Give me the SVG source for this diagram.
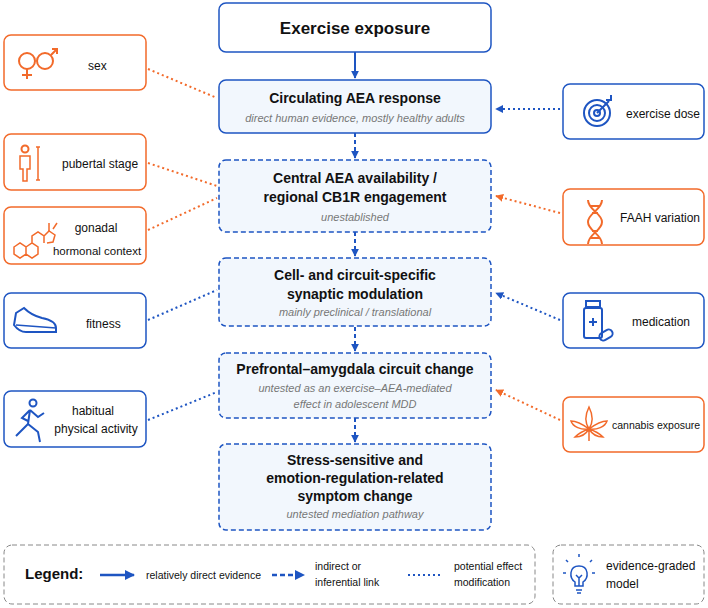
<svg xmlns="http://www.w3.org/2000/svg" width="708" height="608" viewBox="0 0 708 608">
<defs>
<style>
text{font-family:"Liberation Sans",Arial,sans-serif;fill:#111}
.t{font-size:14px;font-weight:bold;text-anchor:middle}
.s{font-size:11px;font-style:italic;fill:#777;text-anchor:middle}
.l{font-size:12px}
.m{fill:#f2f7fd;stroke:#1e55c2;stroke-width:1.5}
.d{stroke-dasharray:5 3}
.bo{fill:#fff;stroke:#1e55c2;stroke-width:1.5}
.oo{fill:#fff;stroke:#f26a2a;stroke-width:1.5}
.ib{fill:none;stroke:#1e55c2;stroke-width:2}
.io{fill:none;stroke:#f26a2a;stroke-width:2}
.cb{stroke:#1e55c2;stroke-width:2;stroke-dasharray:2 3;fill:none}
.co{stroke:#f26a2a;stroke-width:2;stroke-dasharray:2 3;fill:none}
</style>
<marker id="ab" viewBox="0 0 10 10" refX="9" refY="5" markerWidth="4" markerHeight="4" orient="auto"><path d="M0,0L10,5L0,10z" fill="#1e55c2"/></marker>
<marker id="ao" viewBox="0 0 10 10" refX="9" refY="5" markerWidth="4" markerHeight="4" orient="auto"><path d="M0,0L10,5L0,10z" fill="#f26a2a"/></marker>
</defs>
<g id="connectors">
<line x1="355" y1="52" x2="355" y2="78" stroke="#1e55c2" stroke-width="2" marker-end="url(#ab)"/>
<line x1="355" y1="133" x2="355" y2="158" stroke="#1e55c2" stroke-width="2" stroke-dasharray="4 3" marker-end="url(#ab)"/>
<line x1="355" y1="232" x2="355" y2="256" stroke="#1e55c2" stroke-width="2" stroke-dasharray="4 3" marker-end="url(#ab)"/>
<line x1="355" y1="327" x2="355" y2="351" stroke="#1e55c2" stroke-width="2" stroke-dasharray="4 3" marker-end="url(#ab)"/>
<line x1="355" y1="418" x2="355" y2="442" stroke="#1e55c2" stroke-width="2" stroke-dasharray="4 3" marker-end="url(#ab)"/>
<line class="co" x1="148" y1="69" x2="217" y2="98"/>
<line class="co" x1="148" y1="163" x2="217" y2="186"/>
<line class="co" x1="148" y1="230" x2="217" y2="198"/>
<line class="cb" x1="148" y1="320" x2="217" y2="290"/>
<line class="cb" x1="148" y1="420" x2="217" y2="392"/>
<line class="cb" x1="560" y1="109" x2="496" y2="109" marker-end="url(#ab)"/>
<line class="co" x1="560" y1="213" x2="496" y2="196" marker-end="url(#ao)"/>
<line class="cb" x1="560" y1="320" x2="496" y2="293" marker-end="url(#ab)"/>
<line class="co" x1="560" y1="420" x2="496" y2="390" marker-end="url(#ao)"/>
</g>
<g id="exercise"><rect x="219" y="3" width="272" height="49" rx="7" class="bo"/><text class="t" x="355" y="34" style="font-size:17px">Exercise exposure</text></g>
<g id="circulating"><rect x="219" y="80" width="272" height="53" rx="7" class="m"/><text class="t" x="355" y="103">Circulating AEA response</text><text class="s" x="355" y="122">direct human evidence, mostly healthy adults</text></g>
<g id="central"><rect x="219" y="160" width="272" height="72" rx="7" class="m d"/><text class="t" x="355" y="183">Central AEA availability /</text><text class="t" x="355" y="202">regional CB1R engagement</text><text class="s" x="355" y="221">unestablished</text></g>
<g id="cell"><rect x="219" y="258" width="272" height="68" rx="7" class="m d"/><text class="t" x="355" y="280">Cell- and circuit-specific</text><text class="t" x="355" y="299">synaptic modulation</text><text class="s" x="355" y="316">mainly preclinical / translational</text></g>
<g id="prefrontal"><rect x="219" y="353" width="272" height="65" rx="7" class="m d"/><text class="t" x="355" y="374">Prefrontal–amygdala circuit change</text><text class="s" x="355" y="392">untested as an exercise–AEA-mediated</text><text class="s" x="355" y="408">effect in adolescent MDD</text></g>
<g id="symptom"><rect x="219" y="444" width="272" height="86" rx="7" class="m d"/><text class="t" x="355" y="465">Stress-sensitive and</text><text class="t" x="355" y="483">emotion-regulation-related</text><text class="t" x="355" y="501">symptom change</text><text class="s" x="355" y="518">untested mediation pathway</text></g>
<g id="sex"><rect x="4" y="35" width="142" height="55" rx="7" class="oo"/><circle cx="27" cy="61" r="8" class="io"/><path d="M27,69v10M22,75h10" class="io"/><circle cx="45" cy="61" r="8" class="io"/><path d="M51,55l6,-6M52,49h5v5" class="io"/><text class="l" x="88" y="70">sex</text></g>
<g id="pubertal"><rect x="4" y="134" width="142" height="56" rx="7" class="oo"/><circle cx="25" cy="149" r="3.5" class="io"/><path d="M20,156h10v13h-3v12h-4v-12h-3z" class="io" style="stroke-width:1.5"/><path d="M38,147v33M36,147h4M36,180h4" class="io" style="stroke-width:1.5"/><text class="l" x="62" y="168">pubertal stage</text></g>
<g id="gonadal"><rect x="4" y="207" width="142" height="57" rx="7" class="oo"/><path d="M14,247l6,-4l6,4v7l-6,4l-6,-4zM26,247l6,-4l6,4v7l-6,4l-6,-4zM32,243v-7l6,-4l6,4v7M44,236l5,-5l6,4l-2,7l-6,1" class="io" style="stroke-width:1.5"/><path d="M49,231v-8M53,229l4,-6" class="io" style="stroke-width:1.5"/><text class="l" x="96" y="232" text-anchor="middle">gonadal</text><text class="l" x="97" y="255" text-anchor="middle" style="font-size:11.5px">hormonal context</text></g>
<g id="fitness"><rect x="4" y="293" width="142" height="55" rx="7" class="bo"/><path d="M16,313l8,-5c4,4 10,8 18,10c10,2 14,6 14,10v4h-30c-5,0 -9,-3 -12,-7z" class="ib"/><path d="M16,325l40,3" class="ib" style="stroke-width:1.5"/><text class="l" x="86" y="328">fitness</text></g>
<g id="habitual"><rect x="4" y="391" width="142" height="56" rx="7" class="bo"/><circle cx="33" cy="403" r="3.5" class="ib"/><path d="M30,410l-8,8l6,3M30,410l8,7l6,-4M30,410l-2,14l-12,12M28,424l10,8l2,10" class="ib"/><text class="l" x="93" y="415" text-anchor="middle">habitual</text><text class="l" x="96" y="433" text-anchor="middle">physical activity</text></g>
<g id="dose"><rect x="563" y="84" width="141" height="55" rx="7" class="bo"/><circle cx="597" cy="113" r="13" class="ib"/><circle cx="597" cy="113" r="8" class="ib"/><circle cx="597" cy="113" r="3" class="ib"/><path d="M597,113l12,-12M606,100h5v-5" class="ib"/><text class="l" x="626" y="118">exercise dose</text></g>
<g id="faah"><rect x="563" y="189" width="141" height="56" rx="7" class="oo"/><path d="M588,200c0,10 14,13 14,22s-14,12 -14,22M602,200c0,10 -14,13 -14,22s14,12 14,22M590,206h10M592,213h6M592,231h6M590,238h10" class="io"/><text class="l" x="620" y="222">FAAH variation</text></g>
<g id="medication"><rect x="563" y="293" width="141" height="55" rx="7" class="bo"/><rect x="584" y="308" width="18" height="30" rx="2" class="ib"/><rect x="586" y="301" width="14" height="6" class="ib"/><path d="M593,318v8M589,322h8" class="ib"/><rect x="599" y="331" width="14" height="8" rx="4" transform="rotate(-30 606 335)" class="ib"/><text class="l" x="632" y="326">medication</text></g>
<g id="cannabis"><rect x="563" y="397" width="141" height="55" rx="7" class="oo"/><path d="M589,407c-4,8 -4,16 0,22c4,-6 4,-14 0,-22zM589,429c-8,-6 -14,-8 -18,-8c2,6 10,9 18,8zM589,429c8,-6 14,-8 18,-8c-2,6 -10,9 -18,8zM589,429c-6,2 -12,6 -14,8c6,0 11,-3 14,-8zM589,429c6,2 12,6 14,8c-6,0 -11,-3 -14,-8zM589,429v12" class="io" style="stroke-width:1.5"/><text x="612" y="429" style="font-size:10.5px">cannabis exposure</text></g>
<g id="legend"><rect x="4" y="545" width="531" height="59" rx="8" fill="#fff" stroke="#888" stroke-dasharray="5 3"/><text x="25" y="579" style="font-size:15px;font-weight:bold">Legend:</text><line x1="100" y1="575" x2="134" y2="575" stroke="#1e55c2" stroke-width="2.5" marker-end="url(#ab)"/><text x="146" y="579" style="font-size:10.5px">relatively direct evidence</text><line x1="272" y1="575" x2="304" y2="575" stroke="#1e55c2" stroke-width="2.5" stroke-dasharray="5 3" marker-end="url(#ab)"/><text x="315" y="570" style="font-size:10.5px">indirect or</text><text x="315" y="586" style="font-size:10.5px">inferential link</text><line x1="408" y1="575" x2="442" y2="575" class="cb"/><text x="454" y="570" style="font-size:10.5px">potential effect</text><text x="454" y="586" style="font-size:10.5px">modification</text></g>
<g id="model"><rect x="553" y="545" width="151" height="59" rx="8" fill="#fff" stroke="#888" stroke-dasharray="5 3"/><path d="M575,582c-6,-4 -6,-16 4,-16s10,12 4,16v4h-8z M576,590h6M577,593h4M579,586v-8l-3,-3M579,578l3,-3" class="ib" style="stroke-width:1.5"/><path d="M566,573h-3M592,573h3M568,562l-2,-2M590,562l2,-2M579,557v-3" class="ib" style="stroke-width:1.5"/><text x="606" y="570" style="font-size:12px">evidence-graded</text><text x="606" y="588" style="font-size:12px">model</text></g>
</svg>
